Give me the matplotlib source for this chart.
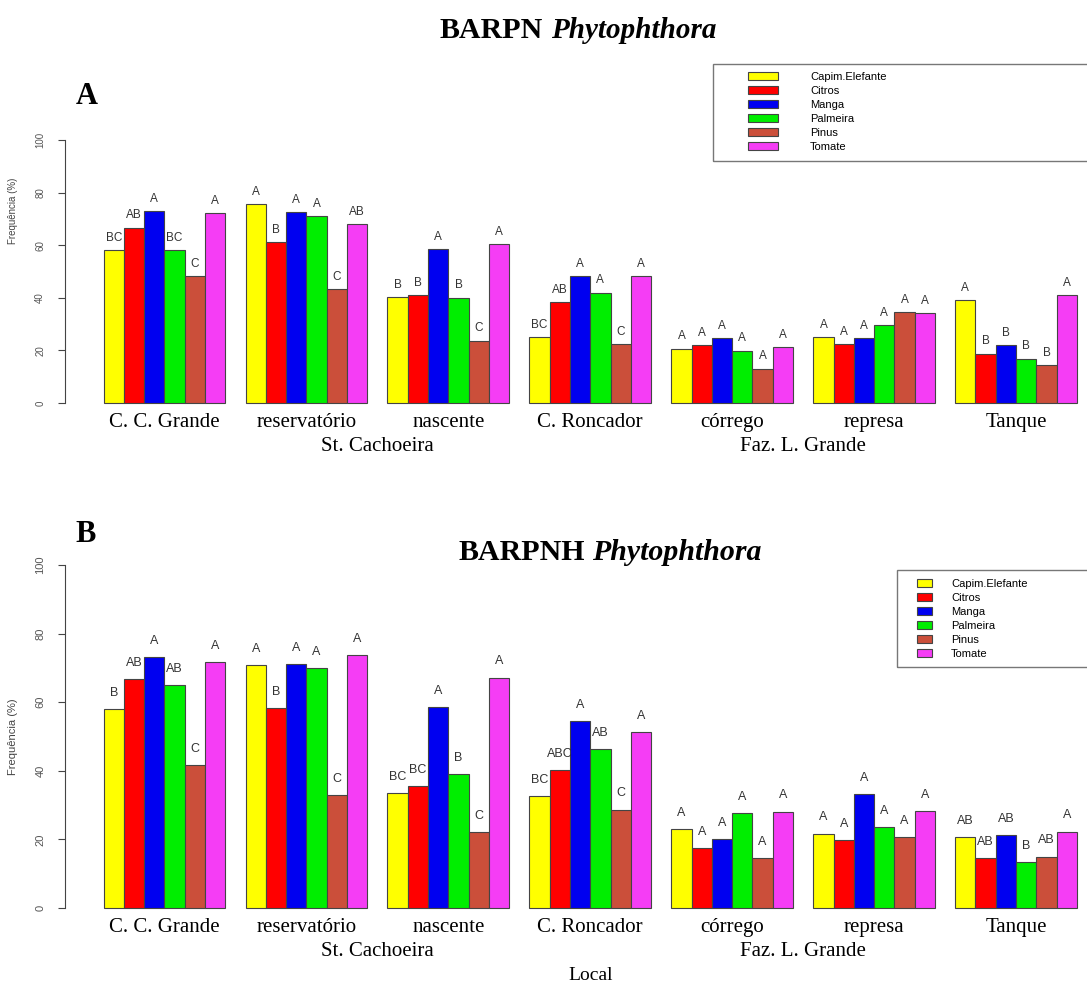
import numpy as np
import matplotlib
matplotlib.use("Agg")
from matplotlib import pyplot as plt
from matplotlib.patches import Rectangle

# locais e espécies
locais = ["C. C. Grande", "reservatório", "nascente", "C. Roncador",
          "córrego", "represa", "Tanque"]
especies = ["Capim.Elefante", "Citros", "Manga", "Palmeira", "Pinus", "Tomate"]
cores = ["#FFFF00", "#FF0000", "#0000F0", "#00EE00", "#CB4F3A", "#F53DF5"]

# BARPN (painel A): uma linha por espécie, valores por local
freq_a = [
    [58.2, 75.6, 40.3, 25.1, 20.6, 25.1, 39.0],   # Capim.Elefante
    [66.6, 61.1, 41.1, 38.4, 22.0, 22.4, 18.7],   # Citros
    [72.9, 72.5, 58.4, 48.1, 24.6, 24.6, 21.9],   # Manga
    [58.2, 71.1, 40.0, 42.0, 19.9, 29.5, 16.8],   # Palmeira
    [48.2, 43.3, 23.7, 22.4, 13.0, 34.6, 14.4],   # Pinus
    [72.2, 68.1, 60.4, 48.2, 21.1, 34.2, 41.0],   # Tomate
]
letras_a = [
    ["BC", "A", "B", "BC", "A", "A", "A"],
    ["AB", "B", "B", "AB", "A", "A", "B"],
    ["A", "A", "A", "A", "A", "A", "B"],
    ["BC", "A", "B", "A", "A", "A", "B"],
    ["C", "C", "C", "C", "A", "A", "B"],
    ["A", "AB", "A", "A", "A", "A", "A"],
]

# BARPNH (painel B)
freq_b = [
    [57.9, 70.9, 33.4, 32.6, 23.1, 21.7, 20.8],
    [66.7, 58.3, 35.5, 40.2, 17.5, 19.7, 14.6],
    [73.1, 71.1, 58.5, 54.4, 20.0, 33.3, 21.2],
    [64.9, 69.9, 39.0, 46.4, 27.6, 23.6, 13.3],
    [41.8, 33.0, 22.2, 28.7, 14.6, 20.8, 15.0],
    [71.7, 73.8, 67.2, 51.3, 28.1, 28.3, 22.3],
]
letras_b = [
    ["B", "A", "BC", "BC", "A", "A", "AB"],
    ["AB", "B", "BC", "ABC", "A", "A", "AB"],
    ["A", "A", "A", "A", "A", "A", "AB"],
    ["AB", "A", "B", "AB", "A", "A", "B"],
    ["C", "C", "C", "C", "A", "A", "AB"],
    ["A", "A", "A", "A", "A", "A", "A"],
]

sans = ["Liberation Sans", "DejaVu Sans"]
serif = ["Liberation Serif", "DejaVu Serif"]

W, H = 1087, 985
fig = plt.figure(figsize=(W / 100, H / 100), dpi=100)


def px_box(left, top, right, bottom):
    return [left / W, 1 - bottom / H, (right - left) / W, (bottom - top) / H]


def painel(ax, freq, letras, fs_letra, fs_tick):
    n_loc = len(locais)
    n_esp = len(especies)
    barras = []
    for j in range(n_esp):
        x = 1 + 7 * np.arange(n_loc) + j + 0.5
        b = ax.bar(x, freq[j], width=1, color=cores[j],
                   edgecolor="#444444", linewidth=0.8, label=especies[j])
        barras.append(b)
        for xi, v, t in zip(x, freq[j], letras[j]):
            ax.text(xi, v + 4.7, t, ha="center", va="center",
                    fontsize=fs_letra, color="#333333", family=sans)
    ax.set_xlim(-0.92, 49.5)
    ax.set_ylim(-4, 104)
    for s in ["top", "right", "bottom"]:
        ax.spines[s].set_visible(False)
    ax.spines["left"].set_bounds(0, 100)
    ax.spines["left"].set_color("#444444")
    ax.set_xticks([])
    ax.set_yticks([0, 20, 40, 60, 80, 100])
    ax.set_yticklabels(["0", "20", "40", "60", "80", "100"], rotation=90,
                       va="center", family=sans, fontsize=fs_tick,
                       color="#555555")
    ax.tick_params(axis="y", length=5, color="#444444", pad=9)
    ax.patch.set_alpha(0)
    # nomes dos locais
    centros = 4 + 7 * np.arange(n_loc)
    for c, nome in zip(centros, locais):
        ax.annotate(nome, xy=(c, 0), xytext=(0, -20), textcoords="offset pixels",
                    ha="center", va="center", fontsize=15, family=serif,
                    annotation_clip=False)
    ax.annotate("St. Cachoeira", xy=(14.5, 0), xytext=(0, -44),
                textcoords="offset pixels", ha="center", va="center",
                fontsize=15, family=serif, annotation_clip=False)
    ax.annotate("Faz. L. Grande", xy=(35.5, 0), xytext=(0, -44),
                textcoords="offset pixels", ha="center", va="center",
                fontsize=15, family=serif, annotation_clip=False)
    return barras


# painel A
ax1 = fig.add_axes(px_box(64.7, 129.5, W, 413.5))
barras_a = painel(ax1, freq_a, letras_a, 8.5, 7)
ax1.set_ylabel("Frequência (%)", family=sans, fontsize=7, color="#444444")
ax1.yaxis.set_label_coords(-0.046, 0.713)

# painel B
ax2 = fig.add_axes(px_box(64.7, 551.3, W, 921.7))
barras_b = painel(ax2, freq_b, letras_b, 9, 8)
ax2.set_ylabel("Frequência (%)", family=sans, fontsize=8, color="#444444")
ax2.yaxis.set_label_coords(-0.046, 0.5)

# títulos
fig.text(543 / W, 1 - 31 / H, "BARPN", ha="right", va="center",
         fontsize=21.5, fontweight="bold", family=serif)
fig.text(551 / W, 1 - 31 / H, "Phytophthora", ha="left", va="center",
         fontsize=21, fontweight="bold", style="italic", family=serif)
fig.text(585 / W, 1 - 553 / H, "BARPNH", ha="right", va="center",
         fontsize=21.5, fontweight="bold", family=serif)
fig.text(592 / W, 1 - 553 / H, "Phytophthora", ha="left", va="center",
         fontsize=21.5, fontweight="bold", style="italic", family=serif)
fig.text(87 / W, 1 - 97 / H, "A", ha="center", va="center",
         fontsize=22, fontweight="bold", family=serif)
fig.text(86 / W, 1 - 535 / H, "B", ha="center", va="center",
         fontsize=22, fontweight="bold", family=serif)
fig.text(591 / W, 1 - 975 / H, "Local", ha="center", va="center",
         fontsize=14, family=serif)

# legendas
fig.patches.append(Rectangle((713 / W, 1 - 161 / H), 380 / W, 97 / H,
                             transform=fig.transFigure, fill=False,
                             edgecolor="#777777", linewidth=1))
fig.legend(handles=barras_a, labels=especies, loc="upper left",
           bbox_to_anchor=(748 / W, 1 - 72 / H), frameon=False,
           borderpad=0, borderaxespad=0, handlelength=2.7, handleheight=0.72,
           handletextpad=2.9, labelspacing=0.36,
           prop={"family": sans, "size": 8})
fig.patches.append(Rectangle((897 / W, 1 - 667 / H), 200 / W, 97 / H,
                             transform=fig.transFigure, fill=False,
                             edgecolor="#777777", linewidth=1))
fig.legend(handles=barras_b, labels=especies, loc="upper left",
           bbox_to_anchor=(917 / W, 1 - 579 / H), frameon=False,
           borderpad=0, borderaxespad=0, handlelength=1.35, handleheight=0.63,
           handletextpad=1.7, labelspacing=0.36,
           prop={"family": sans, "size": 8})

fig.savefig("out.png", dpi=100)
